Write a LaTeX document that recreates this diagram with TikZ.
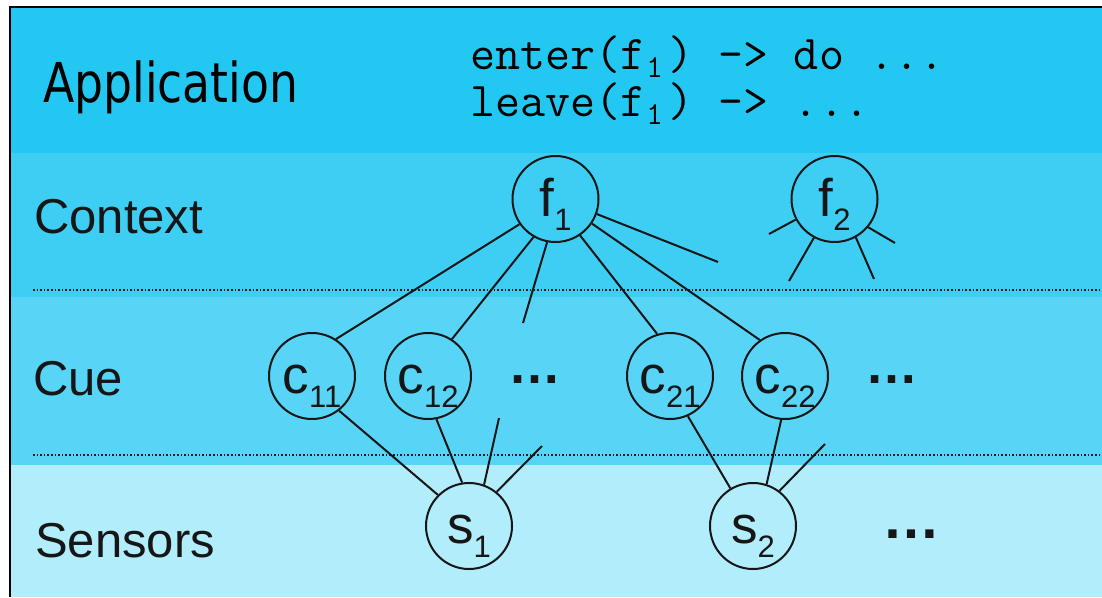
\documentclass[tikz,border=0pt]{standalone}
\usepackage{fontspec}
\usepackage{graphicx}
\setmainfont{Liberation Sans}
\newfontfamily\appfont{DejaVu Sans}
\definecolor{appband}{RGB}{34,200,242}
\definecolor{ctxband}{RGB}{62,206,244}
\definecolor{cueband}{RGB}{88,213,246}
\definecolor{senband}{RGB}{178,237,251}
\definecolor{ink}{RGB}{22,22,22}
\newcommand\lowidx[1]{\raisebox{-14pt}{\fontsize{31}{31}\selectfont #1}}
\newcommand\codeidx[1]{\hspace{1pt}\raisebox{-8pt}{\fontsize{32}{32}\selectfont #1}\hspace{6pt}}
\tikzset{
  vert/.style={circle, draw=ink, line width=2pt, minimum size=86pt, inner sep=0pt,
    text height=34pt, text depth=0pt, text=ink, font=\fontsize{53}{53}\selectfont},
  edge/.style={draw=ink, line width=2pt},
  rowlabel/.style={anchor=base west, inner sep=0pt, text=ink, font=\fontsize{49}{49}\selectfont},
  dotsnode/.style={anchor=base, inner sep=0pt, text=ink, font=\bfseries\fontsize{53}{53}\selectfont},
  codeline/.style={anchor=base west, inner sep=0pt, text=black, font=\ttfamily\fontsize{48.6}{48.6}\selectfont},
  sepline/.style={draw=ink, line width=1.6pt, dash pattern=on 1.6pt off 2pt}
}
\begin{document}
\begin{tikzpicture}[x=1pt, y=-1pt]
\useasboundingbox (0,0) rectangle (1102,597);
% background bands
\fill[white] (0,0) rectangle (1102,597);
\fill[appband] (10,7) rectangle (1102,153);
\fill[ctxband] (10,153) rectangle (1102,297);
\fill[cueband] (10,297) rectangle (1102,465);
\fill[senband] (10,465) rectangle (1102,597);
\draw[black, line width=2.5pt] (10,597) -- (10,7) -- (1102,7);
% separators
\coordinate (sepAa) at (33,290); \coordinate (sepAb) at (1102,290);
\coordinate (sepBa) at (33,455); \coordinate (sepBb) at (1102,455);
\draw[sepline] (sepAa) -- (sepAb);
\draw[sepline] (sepBa) -- (sepBb);
% row labels
\node[anchor=base west, inner sep=0pt, text=black] (app) at (43,102)
  {\appfont\fontsize{55}{55}\selectfont\scalebox{0.83}[1]{Application}};
\node[rowlabel] (ctx) at (34,233) {Context};
\node[rowlabel] (cue) at (33,395) {Cue};
\node[rowlabel] (sen) at (35,557) {Sensors};
% code
\node[codeline] (code1) at (470,69) {enter(f\codeidx{1}) -> do ...};
\node[codeline] (code2) at (470,116) {leave(f\codeidx{1}) -> ...};
% vertices
\node[vert] (f1) at (555.5,199) {f\lowidx{1}};
\node[vert] (f2) at (834.5,199) {f\lowidx{2}};
\node[vert] (c11) at (312,376) {c\lowidx{11}};
\node[vert] (c12) at (428,376) {c\lowidx{12}};
\node[vert] (c21) at (670,376) {c\lowidx{21}};
\node[vert] (c22) at (785,376) {c\lowidx{22}};
\node[vert] (s1) at (469,526) {s\lowidx{1}};
\node[vert] (s2) at (753,526) {s\lowidx{2}};
% ellipses
\node[dotsnode] (dotsA) at (534.5,383) {…};
\node[dotsnode] (dotsB) at (892,383) {…};
\node[dotsnode, font=\bfseries\fontsize{58}{58}\selectfont] (dotsC) at (911,538) {…};
% edges
\draw[edge] (f1.215) -- (c11.57);
\draw[edge] (f1.240) -- (c12.57);
\draw[edge] (f1.304) -- (c21.107);
\draw[edge] (f1.326) -- (c22.125);
\draw[edge] (c11.308) -- (s1.135);
\draw[edge] (c12.281) -- (s1.99);
\draw[edge] (c21.294) -- (s2.121);
\draw[edge] (c22.265) -- (s2.72);
% stubs
\coordinate (f1a) at (523,323);
\coordinate (f1b) at (718,262);
\coordinate (f2a) at (769,234);
\coordinate (f2b) at (789,281);
\coordinate (f2c) at (874,279);
\coordinate (f2d) at (895,243);
\coordinate (s1a) at (499,418);
\coordinate (s1b) at (542,446);
\coordinate (s2a) at (825,444);
\draw[edge] (f1.259) -- (f1a);
\draw[edge] (f1.340) -- (f1b);
\draw[edge] (f2.208) -- (f2a);
\draw[edge] (f2.242) -- (f2b);
\draw[edge] (f2.299) -- (f2c);
\draw[edge] (f2.320) -- (f2d);
\draw[edge] (s1.70) -- (s1a);
\draw[edge] (s1.51) -- (s1b);
\draw[edge] (s2.53) -- (s2a);
\end{tikzpicture}
\end{document}
